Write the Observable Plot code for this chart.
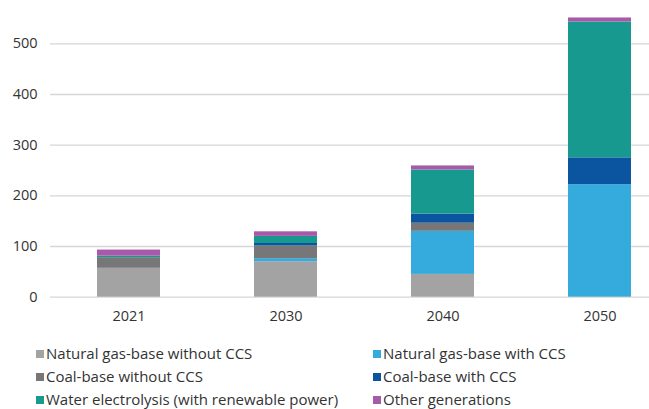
<!DOCTYPE html>
<html>
<head>
<meta charset="utf-8">
<script src="https://cdn.jsdelivr.net/npm/d3@7"></script>
<script src="https://cdn.jsdelivr.net/npm/@observablehq/plot@0.6"></script>
<style>
  html, body { margin: 0; padding: 0; background: #fff; }
  body { width: 649px; height: 409px; overflow: hidden; font-family: "Open Sans", "Noto Sans", sans-serif; }
  #chart svg { display: block; }
  #legend { position: relative; height: 79px; }
  .item { position: absolute; font-size: 15px; color: #333; white-space: nowrap; line-height: 18px; }
  .item .sw { display: inline-block; width: 8px; height: 8px; margin-right: 2px; vertical-align: 1px; }
</style>
</head>
<body>
<div id="chart"></div>
<div id="legend"></div>
<script>
// Hydrogen supply by production route, stacked per year
const years = ["2021", "2030", "2040", "2050"];
const seriesNames = [
  "Natural gas-base without CCS",
  "Natural gas-base with CCS",
  "Coal-base without CCS",
  "Coal-base with CCS",
  "Water electrolysis (with renewable power)",
  "Other generations"
];
const seriesColors = ["#a3a3a3", "#35aadc", "#777777", "#0b55a0", "#18998f", "#a65aa9"];

const natGasNoCCS = [57, 70, 45, 0];
const natGasCCS   = [0, 6, 85, 222];
const coalNoCCS   = [21, 25, 16, 0];
const coalCCS     = [0, 5, 18, 53];
const electrolysis = [3, 14, 87, 268];
const otherGen    = [12, 9, 8, 8];

const yTicks = [0, 100, 200, 300, 400, 500];

const seriesValues = [natGasNoCCS, natGasCCS, coalNoCCS, coalCCS, electrolysis, otherGen];
const rows = [];
seriesNames.forEach((name, i) => {
  years.forEach((year, j) => {
    rows.push({year, series: name, value: seriesValues[i][j]});
  });
});

const chart = Plot.plot({
  width: 649,
  height: 330,
  marginLeft: 50,
  marginRight: 0,
  marginTop: 0,
  marginBottom: 33.3,
  style: {fontFamily: "'Open Sans', 'Noto Sans', sans-serif", fontSize: "14px", color: "#333", background: "#fff"},
  x: {domain: years, range: [50, 678], paddingInner: 0.6, paddingOuter: 0.3, label: null},
  y: {domain: [0, 500], range: [296.7, 43.3], label: null},
  color: {domain: seriesNames, range: seriesColors},
  marks: [
    Plot.gridY(yTicks, {stroke: "#d6d6d6", strokeOpacity: 1, strokeWidth: 1.3}),
    Plot.barY(rows, {x: "year", y: "value", fill: "series", order: seriesNames}),
    Plot.axisY(yTicks, {tickSize: 0, tickPadding: 13, fontSize: 14.5, label: null}),
    Plot.axisX({tickSize: 0, tickPadding: 14, fontSize: 14.5, label: null})
  ]
});
document.getElementById("chart").appendChild(chart);

// Two-column legend below the chart
const legend = document.getElementById("legend");
const cols = [36, 373];
const rowTop = [14, 37, 60];
seriesNames.forEach((name, i) => {
  const div = document.createElement("div");
  div.className = "item";
  div.style.left = cols[i % 2] + "px";
  div.style.top = rowTop[Math.floor(i / 2)] + "px";
  const sw = document.createElement("span");
  sw.className = "sw";
  sw.style.background = seriesColors[i];
  div.appendChild(sw);
  div.appendChild(document.createTextNode(name));
  legend.appendChild(div);
});
</script>
</body>
</html>
